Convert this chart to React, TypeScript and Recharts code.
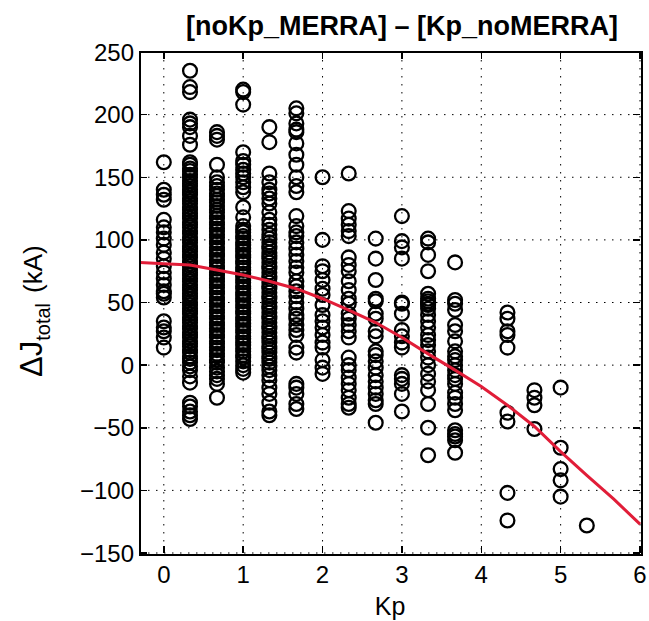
import React from 'react';
import { ScatterChart, Scatter, XAxis, YAxis, CartesianGrid } from 'recharts';

const FONT = '"Liberation Sans", Arial, Helvetica, sans-serif';

const kpTicks = [0, 1, 2, 3, 4, 5, 6];
const dJTicks = [-150, -100, -50, 0, 50, 100, 150, 200, 250];
const kpDomain = [-0.3, 6];
const dJDomain = [-150, 250];

// dJ values (kA)
const kp00 = [162, 140, 136, 132, 116, 110, 106, 101, 96, 90, 85, 79, 74, 69, 64, 59, 57, 54, 35, 30, 27, 22, 14];
const kp03 = [235, 222, 218, 196, 193, 190, 183, 176, 162, 160, 157, 155, 152, 150, 147, 145, 143, 140, 138, 136, 133, 131, 129, 126, 124, 121, 119, 117, 114, 112, 110, 107, 105, 102, 100, 98, 95, 93, 91, 88, 86, 83, 81, 79, 76, 74, 72, 69, 67, 64, 62, 60, 57, 55, 53, 50, 48, 45, 43, 41, 38, 36, 34, 31, 29, 26, 24, 22, 19, 17, 15, 12, 10, 7, 5, 2, -1, -4, -9, -14, -30, -33, -37, -40, -43];
const kp07 = [186, 183, 180, 160, 150, 146, 143, 140, 137, 135, 132, 130, 127, 124, 122, 119, 117, 114, 112, 109, 107, 104, 102, 99, 97, 94, 92, 89, 87, 84, 82, 79, 77, 74, 72, 69, 67, 64, 62, 59, 57, 54, 52, 49, 47, 44, 42, 39, 37, 34, 32, 29, 27, 24, 22, 19, 17, 14, 12, 9, 7, 4, 2, -2, -5, -8, -11, -15, -26];
const kp10 = [220, 218, 208, 170, 163, 160, 156, 153, 150, 146, 142, 138, 126, 118, 111, 108, 106, 103, 101, 98, 96, 93, 91, 88, 86, 83, 81, 78, 76, 73, 71, 68, 66, 63, 61, 58, 56, 53, 51, 48, 46, 43, 41, 38, 36, 33, 31, 28, 26, 23, 21, 18, 16, 13, 11, 8, 6, 3, 0, -3, -6];
const kp13 = [190, 178, 153, 146, 140, 137, 133, 129, 122, 116, 112, 108, 104, 101, 98, 95, 93, 90, 87, 85, 82, 79, 77, 74, 71, 69, 66, 63, 61, 58, 55, 53, 50, 47, 45, 42, 39, 37, 34, 31, 29, 26, 23, 21, 18, 15, 13, 10, 7, 5, 2, -1, -4, -8, -12, -18, -23, -30, -37, -40];
const kp17 = [205, 201, 193, 188, 186, 177, 168, 160, 150, 143, 138, 119, 111, 106, 103, 98, 93, 88, 83, 78, 74, 67, 63, 59, 55, 50, 45, 40, 37, 32, 28, 24, 14, 10, -15, -18, -23, -31, -35];
const kp20 = [150, 100, 79, 75, 68, 61, 56, 48, 40, 35, 30, 24, 18, 14, 4, -2, -7];
const kp23 = [153, 123, 117, 112, 107, 103, 86, 80, 75, 67, 60, 53, 49, 41, 37, 32, 27, 22, 6, 0, -4, -10, -15, -20, -26, -31, -34];
const kp27 = [101, 85, 68, 53, 51, 41, 37, 27, 23, 11, 8, 3, -2, -8, -13, -18, -23, -28, -31, -46];
const kp30 = [119, 99, 94, 85, 50, 49, 41, 28, 23, 18, 14, -8, -11, -15, -23, -37];
const kp33 = [101, 98, 88, 75, 57, 53, 51, 49, 48, 45, 40, 35, 30, 24, 20, 16, 11, 6, 0, -7, -13, -20, -31, -50, -72];
const kp37 = [82, 52, 49, 44, 32, 27, 19, 11, 7, 4, 0, -4, -8, -11, -15, -22, -26, -31, -36, -52, -55, -57, -60, -70];
const kp43 = [42, 37, 27, 24, 14, -38, -45, -102, -124];
const kp47 = [-20, -26, -32, -51];
const kp50 = [-18, -66, -83, -92, -105];
const kp53 = [-128];

// red fitted curve
const fitKp = [-0.3, 0, 0.33, 0.67, 1, 1.33, 1.67, 2, 2.33, 2.67, 3, 3.33, 3.67, 4, 4.33, 4.67, 5, 5.33, 5.67, 6];
const fitDJ = [82, 81, 80, 76, 72, 67, 61, 53, 44, 34, 22, 9, -4, -17, -32, -49, -69, -88, -107, -127];

const columns: [number, number[]][] = [
  [0, kp00], [0.33, kp03], [0.67, kp07], [1, kp10], [1.33, kp13], [1.67, kp17],
  [2, kp20], [2.33, kp23], [2.67, kp27], [3, kp30], [3.33, kp33], [3.67, kp37],
  [4.33, kp43], [4.67, kp47], [5, kp50], [5.33, kp53],
];

const points = columns.flatMap(([kp, vals]) => vals.map((v) => ({ kp, dJ: v })));
const fitLine = fitKp.map((kp, i) => ({ kp, dJ: fitDJ[i] }));

// chart geometry
const W = 649;
const H = 621;
const margin = { top: 52, right: 9, bottom: 0, left: 0 };
const Y_AXIS_W = 140;
const X_AXIS_H = 68;
const plotL = margin.left + Y_AXIS_W;
const plotR = W - margin.right;
const plotT = margin.top;
const plotB = H - margin.bottom - X_AXIS_H;

// same linear mapping the chart uses, for the box and the inward ticks
const sx = (k: number) => plotL + ((k - kpDomain[0]) / (kpDomain[1] - kpDomain[0])) * (plotR - plotL);
const sy = (v: number) => plotB - ((v - dJDomain[0]) / (dJDomain[1] - dJDomain[0])) * (plotB - plotT);
const TICK = 7;
const BOX_W = 2;
const TICK_W = 1.5;

const Ring = (p: any) => (
  <circle cx={p.cx} cy={p.cy} r={6.9} fill="none" stroke="#000" strokeWidth={2.3} />
);
const NoDot = () => <g />;

const tickFont = { fill: '#000', fontSize: 24, fontFamily: FONT };
const minus = (v: number) => String(v).replace('-', '\u2212');

const mark = (left: number, top: number, width: number, height: number): React.CSSProperties => ({
  position: 'absolute', left, top, width, height, background: '#000',
});

export default function App() {
  return (
    <div style={{ position: 'absolute', left: 0, top: 0, width: W, height: H, background: '#fff' }}>
      <ScatterChart width={W} height={H} margin={margin}>
        <CartesianGrid stroke="#000" strokeDasharray="1.5 6.5" strokeWidth={1} />
        <XAxis
          dataKey="kp"
          type="number"
          domain={kpDomain}
          ticks={kpTicks}
          interval={0}
          height={X_AXIS_H}
          tickSize={-7}
          tickMargin={20}
          axisLine={false}
          tickLine={false}
          tick={tickFont}
        />
        <YAxis
          dataKey="dJ"
          type="number"
          domain={dJDomain}
          ticks={dJTicks}
          interval={0}
          width={Y_AXIS_W}
          tickSize={-7}
          tickMargin={13}
          axisLine={false}
          tickLine={false}
          tick={tickFont}
          tickFormatter={minus}
        />
        <Scatter data={points} shape={Ring} isAnimationActive={false} />
        <Scatter
          data={fitLine}
          line={{ stroke: '#e11d38', strokeWidth: 3 }}
          lineType="joint"
          shape={NoDot}
          isAnimationActive={false}
        />
      </ScatterChart>
      {/* axes box and inward ticks */}
      <div
        style={{
          position: 'absolute',
          left: plotL - BOX_W / 2,
          top: plotT - BOX_W / 2,
          width: plotR - plotL,
          height: plotB - plotT,
          border: `${BOX_W}px solid #000`,
          pointerEvents: 'none',
        }}
      />
      {kpTicks.map((k) => (
        <React.Fragment key={`kx${k}`}>
          <div style={mark(sx(k) - TICK_W / 2, plotB - TICK, TICK_W, TICK)} />
          <div style={mark(sx(k) - TICK_W / 2, plotT, TICK_W, TICK)} />
        </React.Fragment>
      ))}
      {dJTicks.map((v) => (
        <React.Fragment key={`ky${v}`}>
          <div style={mark(plotL, sy(v) - TICK_W / 2, TICK, TICK_W)} />
          <div style={mark(plotR - TICK, sy(v) - TICK_W / 2, TICK, TICK_W)} />
        </React.Fragment>
      ))}
      <svg width={W} height={H} style={{ position: 'absolute', left: 0, top: 0, pointerEvents: 'none' }}>
        <text x={402} y={35} textAnchor="middle" fontFamily={FONT} fontWeight="bold" fontSize={27} fill="#000">
          [noKp_MERRA] – [Kp_noMERRA]
        </text>
        <text x={390} y={615} textAnchor="middle" fontFamily={FONT} fontSize={25} fill="#000">
          Kp
        </text>
        <text
          x={42}
          y={377}
          transform="rotate(-90, 42, 377)"
          textAnchor="start"
          fontFamily={FONT}
          fill="#000"
        >
          <tspan fontSize={31}>ΔJ</tspan>
          <tspan fontSize={20} dy={8}>total</tspan>
          <tspan fontSize={26} dy={-8} dx={10}>(kA)</tspan>
        </text>
      </svg>
    </div>
  );
}
